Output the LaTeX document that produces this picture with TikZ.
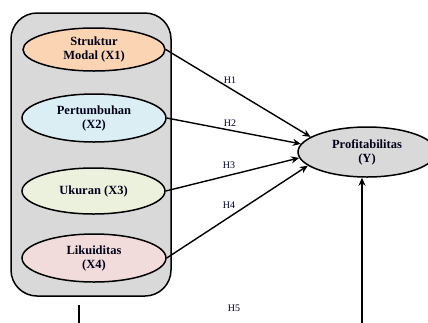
\documentclass[tikz,border=0pt]{standalone}
\usepackage{fontspec}
\setmainfont{Liberation Serif}
\usetikzlibrary{shapes.geometric,arrows.meta}
\definecolor{cOrange}{HTML}{FBD4B4}
\definecolor{cBlue}{HTML}{DAEEF3}
\definecolor{cGreen}{HTML}{EBF1DD}
\definecolor{cPink}{HTML}{F2DCDB}
\definecolor{cGray}{HTML}{D9D9D9}
\tikzset{
  var/.style={ellipse, draw, line width=1.5pt, inner sep=0pt, align=center,
    font=\fontsize{12.5}{14}\selectfont\bfseries, text=black!90!blue},
  arr/.style={line width=1.4pt, -{Stealth[length=8pt,width=7pt]}},
  hlab/.style={font=\fontsize{10}{12}\selectfont, text=black!85!blue}
}
\begin{document}
\begin{tikzpicture}[x=1pt,y=-1pt]
\useasboundingbox (0,0) rectangle (428,322);
\clip (0,0) rectangle (428,322);
\node[draw, fill=cGray, line width=1.5pt, rounded corners=26pt, minimum width=160pt, minimum height=283pt, inner sep=0pt] (box) at (91,154.5) {};
\node[var, fill=cOrange, minimum width=142pt, minimum height=43pt] (e1) at (94,49.5) {Struktur\\Modal (X1)};
\node[var, fill=cBlue, minimum width=144pt, minimum height=48pt] (e2) at (94,118) {Pertumbuhan\\(X2)};
\node[var, fill=cGreen, minimum width=143pt, minimum height=46pt] (e3) at (93.5,191) {Ukuran (X3)};
\node[var, fill=cPink, minimum width=144pt, minimum height=48pt] (e4) at (94,258) {Likuiditas\\(X4)};
\node[var, fill=cGray, minimum width=138pt, minimum height=50pt] (y) at (367,152) {Profitabilitas\\(Y)};
\draw[arr] (e1.east) -- (y.165);
\draw[arr] (e2.east) -- (y.173);
\draw[arr] (e3.east) -- (y.185);
\draw[arr] (e4.east) -- (y.193);
\coordinate (b) at (362,330);
\draw[arr] (b) -- (b |- y.south);
\coordinate (l1) at (79,305);
\coordinate (l2) at (79,330);
\draw[line width=1.5pt] (l1) -- (l2);
\node[hlab] (h1) at (230,80) {H1};
\node[hlab] (h2) at (230,123) {H2};
\node[hlab] (h3) at (229,165) {H3};
\node[hlab] (h4) at (229,205) {H4};
\node[hlab] (h5) at (234,308) {H5};
\end{tikzpicture}
\end{document}
